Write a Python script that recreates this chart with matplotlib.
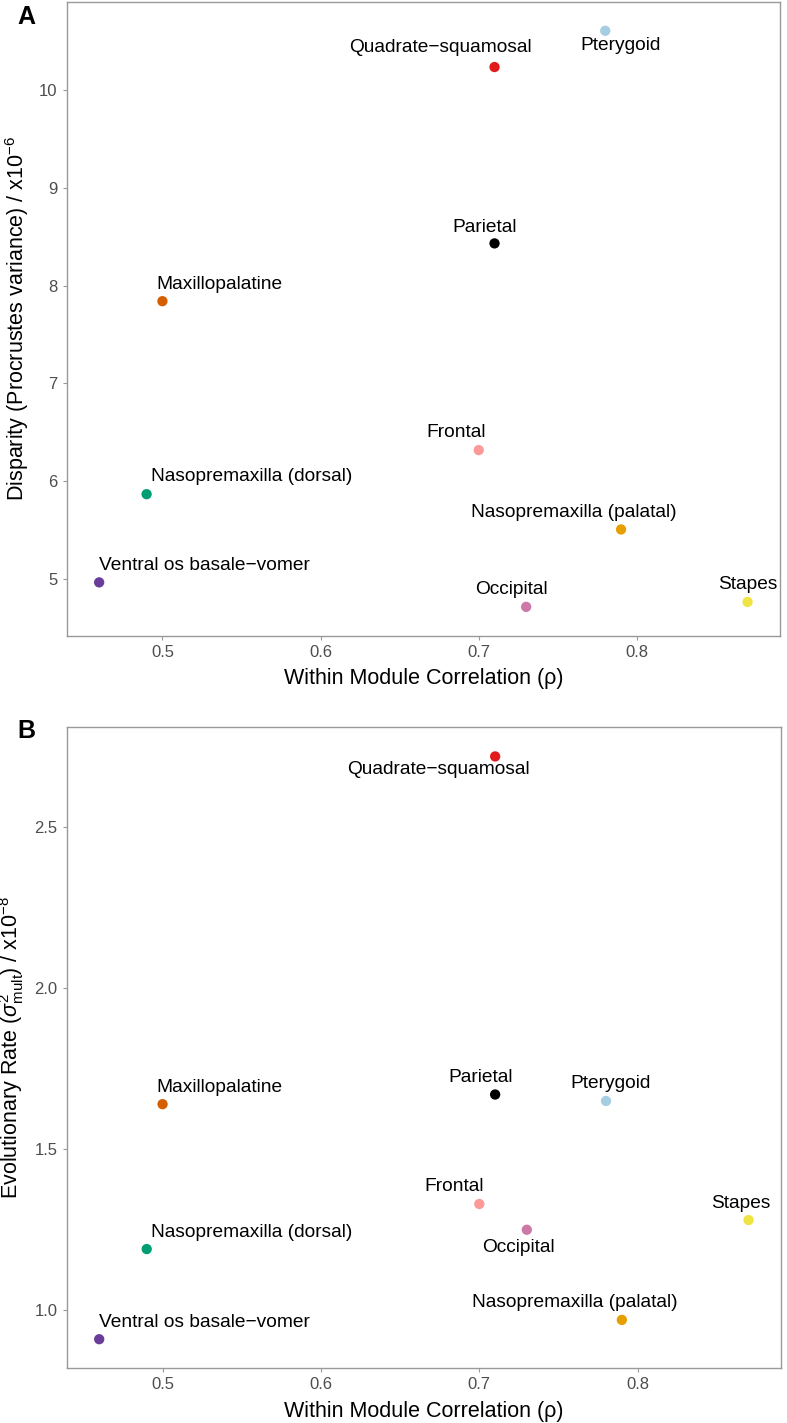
import matplotlib
matplotlib.use("Agg")
import matplotlib.pyplot as plt

plt.rcParams["font.family"] = ["Liberation Sans", "DejaVu Sans"]
plt.rcParams["mathtext.fontset"] = "custom"
plt.rcParams["mathtext.rm"] = "Liberation Sans"
plt.rcParams["mathtext.it"] = "Liberation Sans:italic"
plt.rcParams["mathtext.sf"] = "Liberation Sans"

MODULES = [
    "Pterygoid",
    "Quadrate\u2212squamosal",
    "Parietal",
    "Maxillopalatine",
    "Frontal",
    "Nasopremaxilla (dorsal)",
    "Nasopremaxilla (palatal)",
    "Ventral os basale\u2212vomer",
    "Occipital",
    "Stapes",
]
CORRELATION = [0.78, 0.71, 0.71, 0.50, 0.70, 0.49, 0.79, 0.46, 0.73, 0.87]
DISPARITY = [10.60, 10.23, 8.43, 7.84, 6.32, 5.87, 5.51, 4.97, 4.72, 4.77]
RATE = [1.65, 2.72, 1.67, 1.64, 1.33, 1.19, 0.97, 0.91, 1.25, 1.28]

COLORS = ["#A6CEE3", "#E31A1C", "#000000", "#D55E00", "#FB9A99",
          "#009E73", "#E69F00", "#6A3D9A", "#CC79A7", "#F0E442"]

# label offsets (pixels) to mimic the repelled labels
OFFS_A = [(15, -15), (-54, 20), (-10, 16), (57, 17), (-23, 18),
          (105, 18), (-47, 17), (105, 17), (-15, 17), (0, 17)]
OFFS_B = [(5, 17), (-57, -13), (-15, 17), (57, 17), (-25, 17),
          (105, 17), (-47, 17), (105, 17), (-8, -18), (-8, 17)]

SPINE = "#999999"
TICK_TXT = "#4D4D4D"


def style(ax):
    for s in ax.spines.values():
        s.set_color(SPINE)
        s.set_linewidth(1.0)
    ax.tick_params(colors=SPINE, labelcolor=TICK_TXT, labelsize=12,
                   length=3, width=0.8, direction="out")


def panel(ax, yvals, offs, yticks, ylabel):
    style(ax)
    ax.scatter(CORRELATION, yvals, c=COLORS, s=55, zorder=3, linewidths=0)
    for name, x, y, (dx, dy) in zip(MODULES, CORRELATION, yvals, offs):
        ax.annotate(name, xy=(x, y), xytext=(dx, dy), textcoords="offset pixels",
                    ha="center", va="center", fontsize=13.8, color="black")
    lo, hi = min(CORRELATION), max(CORRELATION)
    pad = (hi - lo) * 0.05
    ax.set_xlim(lo - pad, hi + pad)
    lo, hi = min(yvals), max(yvals)
    pad = (hi - lo) * 0.05
    ax.set_ylim(lo - pad, hi + pad)
    ax.set_xticks([0.5, 0.6, 0.7, 0.8])
    ax.set_yticks(yticks)
    ax.set_xlabel("Within Module Correlation (\u03c1)", fontsize=15.5, labelpad=6)
    ax.set_ylabel(ylabel, fontsize=15.5, labelpad=6)


W, H = 787, 1423
fig = plt.figure(figsize=(W / 100, H / 100), dpi=100, facecolor="white")
ax_a = fig.add_axes([0.0848, 0.5533, 0.9063, 0.4453])
ax_b = fig.add_axes([0.0848, 0.0384, 0.9076, 0.4505])

panel(ax_a, DISPARITY, OFFS_A, [5, 6, 7, 8, 9, 10],
      "Disparity (Procrustes variance) / x10$^{-6}$")
panel(ax_b, RATE, OFFS_B, [1.0, 1.5, 2.0, 2.5],
      "Evolutionary Rate ($\\sigma^2_{\\mathrm{mult}}$) / x10$^{-8}$")
ax_b.set_yticklabels(["1.0", "1.5", "2.0", "2.5"])

fig.text(26 / W, 1 - 17 / H, "A", fontsize=18, fontweight="bold",
         ha="center", va="center")
fig.text(26 / W, 1 - 731 / H, "B", fontsize=18, fontweight="bold",
         ha="center", va="center")

fig.savefig("out.png", dpi=100, facecolor="white")
